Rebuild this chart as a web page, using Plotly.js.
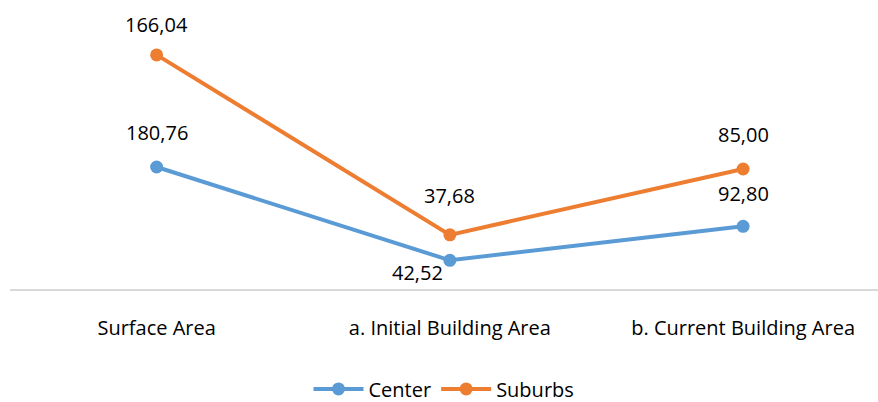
<!DOCTYPE html>
<html><head><meta charset="utf-8">
<script src="https://cdn.plot.ly/plotly-3.0.1.min.js"></script>
<style>body{margin:0;background:#fff}#chart{width:878px;height:402px}</style>
</head><body><div id="chart"></div>
<script>
const categories = ["Surface Area", "a. Initial Building Area", "b. Current Building Area"];
const centerValues = [180.76, 42.52, 92.80];
const suburbsValues = [166.04, 37.68, 85.00];
const centerLabels = ["180,76", "42,52", "92,80"];
const suburbsLabels = ["166,04", "37,68", "85,00"];

const blue = "#5B9BD5", orange = "#ED7D31";
const font = "'Open Sans', sans-serif";
const fs = 20;

const traces = [
  {x: categories, y: centerValues, name: "Center", type: "scatter", mode: "lines+markers",
   stackgroup: "s", fill: "none", line: {color: blue, width: 4}, marker: {color: blue, size: 13}, hoverinfo: "skip"},
  {x: categories, y: suburbsValues, name: "Suburbs", type: "scatter", mode: "lines+markers",
   stackgroup: "s", fill: "none", line: {color: orange, width: 4}, marker: {color: orange, size: 13}, hoverinfo: "skip"}
];

const annotations = [];
const centerShift = [[0, 34], [-32, -12], [0, 33]];
categories.forEach((c, i) => {
  annotations.push({x: c, y: centerValues[i], text: centerLabels[i], showarrow: false,
    xshift: centerShift[i][0], yshift: centerShift[i][1], font: {family: font, size: fs, color: "#000"}});
  annotations.push({x: c, y: centerValues[i] + suburbsValues[i], text: suburbsLabels[i], showarrow: false,
    yshift: i === 0 ? 30 : (i === 1 ? 39 : 34), font: {family: font, size: fs, color: "#000"}});
});

const layout = {
  width: 878, height: 402,
  margin: {l: 10, r: 0, t: 19, b: 113, autoexpand: false},
  paper_bgcolor: "#fff", plot_bgcolor: "#fff",
  font: {family: font, size: fs, color: "#000"},
  showlegend: true,
  legend: {orientation: "h", x: 0.5, xanchor: "center", y: -0.37, yanchor: "middle",
    font: {family: font, size: fs, color: "#000"}, traceorder: "normal", itemwidth: 50},
  xaxis: {type: "category", range: [-0.5, 2.46], showgrid: false, zeroline: false,
    showline: true, linecolor: "#D9D9D9", linewidth: 2, ticks: "", ticklabelstandoff: 20,
    tickfont: {family: font, size: fs, color: "#000"}},
  yaxis: {range: [0, 400], visible: false, showgrid: false, zeroline: false},
  annotations: annotations
};
Plotly.newPlot("chart", traces, layout, {displayModeBar: false, staticPlot: true});
</script></body></html>
